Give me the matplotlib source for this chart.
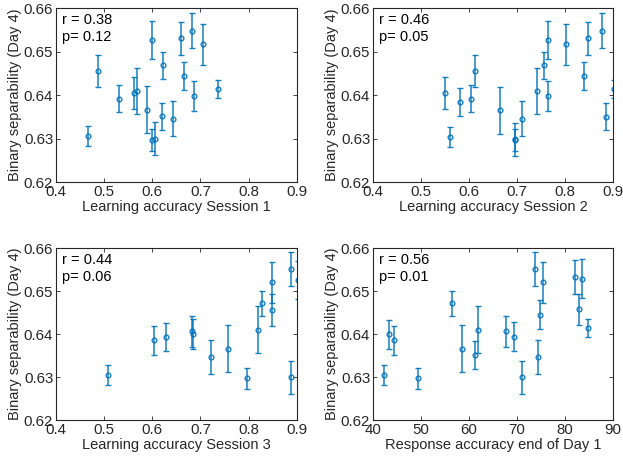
import numpy as np
import matplotlib
matplotlib.use("Agg")
import matplotlib.pyplot as plt

plt.rcParams['font.family'] = ['Liberation Sans', 'DejaVu Sans']

# values
acc_s1 = [0.467, 0.488, 0.531, 0.561, 0.568, 0.590, 0.599, 0.599, 0.606, 0.620,
          0.622, 0.644, 0.660, 0.665, 0.682, 0.687, 0.705, 0.736]
sep_s1 = [0.6305, 0.6455, 0.6392, 0.6405, 0.6410, 0.6366, 0.6526, 0.6297, 0.6300, 0.6351,
          0.6469, 0.6346, 0.6530, 0.6444, 0.6548, 0.6398, 0.6517, 0.6414]
err_s1 = [0.0023, 0.0036, 0.0032, 0.0036, 0.0053, 0.0054, 0.0044, 0.0026, 0.0038, 0.0031,
          0.0031, 0.0040, 0.0039, 0.0032, 0.0040, 0.0034, 0.0047, 0.0021]

acc_s2 = [0.551, 0.560, 0.582, 0.604, 0.6125, 0.665, 0.696, 0.696, 0.710, 0.742,
          0.756, 0.764, 0.764, 0.802, 0.840, 0.847, 0.878, 0.885, 0.902]
sep_s2 = [0.6405, 0.6304, 0.6384, 0.6392, 0.6455, 0.6365, 0.6297, 0.6298, 0.6346, 0.6410,
          0.6469, 0.6526, 0.6398, 0.6517, 0.6444, 0.6530, 0.6548, 0.6350, 0.6414]
err_s2 = [0.0036, 0.0023, 0.0033, 0.0032, 0.0036, 0.0054, 0.0025, 0.0038, 0.0040, 0.0053,
          0.0031, 0.0044, 0.0034, 0.0047, 0.0032, 0.0039, 0.0040, 0.0031, 0.0021]

acc_s3 = [0.508, 0.604, 0.629, 0.682, 0.685, 0.721, 0.757, 0.796, 0.819, 0.827,
          0.848, 0.848, 0.888, 0.888, 0.903]
sep_s3 = [0.6304, 0.6385, 0.6393, 0.6406, 0.6400, 0.6346, 0.6366, 0.6297, 0.6410, 0.6471,
          0.6520, 0.6455, 0.6551, 0.6299, 0.6526]
err_s3 = [0.0023, 0.0034, 0.0033, 0.0037, 0.0034, 0.0040, 0.0055, 0.0025, 0.0054, 0.0030,
          0.0048, 0.0037, 0.0040, 0.0038, 0.0044]

acc_d1 = [42.2, 43.3, 44.4, 49.3, 56.4, 58.6, 61.3, 61.9, 67.8, 69.4,
          71.0, 73.75, 74.3, 74.9, 75.4, 82.0, 82.9, 83.5, 84.7]
sep_d1 = [0.6304, 0.6399, 0.6385, 0.6297, 0.6471, 0.6366, 0.6351, 0.6410, 0.6406, 0.6394,
          0.6299, 0.6551, 0.6346, 0.6445, 0.6520, 0.6533, 0.6457, 0.6529, 0.6415]
err_d1 = [0.0023, 0.0034, 0.0034, 0.0025, 0.0030, 0.0055, 0.0032, 0.0054, 0.0037, 0.0033,
          0.0038, 0.0040, 0.0040, 0.0033, 0.0048, 0.0040, 0.0037, 0.0045, 0.0021]

xlabels = ["Learning accuracy Session 1", "Learning accuracy Session 2",
           "Learning accuracy Session 3", "Response accuracy end of Day 1"]
stats = [("0.38", "0.12"), ("0.46", "0.05"), ("0.44", "0.06"), ("0.56", "0.01")]
xs = [acc_s1, acc_s2, acc_s3, acc_d1]
ys = [sep_s1, sep_s2, sep_s3, sep_d1]
es = [err_s1, err_s2, err_s3, err_d1]

blue = '#0072BD'
txt = '#262626'

fig = plt.figure(figsize=(6.23, 4.62), dpi=100)
positions = [[0.0899, 0.606, 0.3863, 0.3766], [0.5987, 0.606, 0.3852, 0.3766],
             [0.0899, 0.0909, 0.3863, 0.3723], [0.5987, 0.0909, 0.3852, 0.3723]]

for i in range(4):
    ax = fig.add_axes(positions[i])
    ax.errorbar(xs[i], ys[i], yerr=es[i], fmt='o', color=blue, ms=3.4, mfc='none',
                mew=1.0, elinewidth=1.1, capsize=2.0, capthick=1.0, alpha=0.9)
    if i < 3:
        ax.set_xlim(0.4, 0.9)
        ax.set_xticks([0.4, 0.5, 0.6, 0.7, 0.8, 0.9])
    else:
        ax.set_xlim(40, 90)
        ax.set_xticks([40, 50, 60, 70, 80, 90])
    ax.set_ylim(0.62, 0.66)
    ax.set_yticks([0.62, 0.63, 0.64, 0.65, 0.66])
    ax.set_yticklabels(['0.62', '0.63', '0.64', '0.65', '0.66'])
    ax.tick_params(direction='in', top=True, right=True, length=3, width=0.6,
                   labelsize=10.8, colors=txt, pad=2)
    for sp in ax.spines.values():
        sp.set_linewidth(0.8)
        sp.set_color(txt)
    ax.set_xlabel(xlabels[i], fontsize=10.5, color=txt, labelpad=1)
    ax.set_ylabel("Binary separability (Day 4)", fontsize=10.5, color=txt, labelpad=1)
    ax.text(0.025, 0.97, "r = " + stats[i][0], transform=ax.transAxes, fontsize=10.5,
            va='top', ha='left', color='black')
    ax.text(0.025, 0.875, "p= " + stats[i][1], transform=ax.transAxes, fontsize=10.5,
            va='top', ha='left', color='black')

fig.savefig("out.png", dpi=100)
